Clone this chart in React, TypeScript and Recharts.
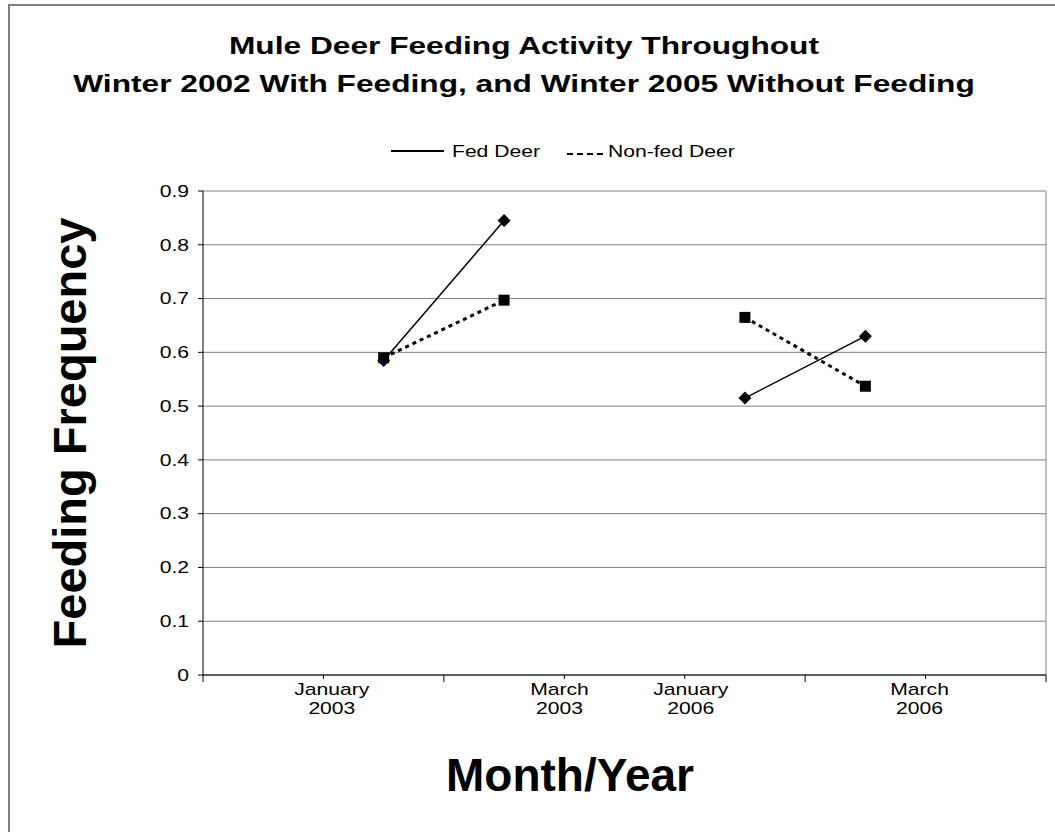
import React from 'react';
import {
  LineChart, Line, XAxis, YAxis, CartesianGrid, ReferenceLine, Legend, Label
} from 'recharts';

// chart values
const periods = ['Jan 2003', 'Mar 2003', '', 'Jan 2006', 'Mar 2006'];
const slotCenters = [1.5, 2.5, 3.5, 4.5, 5.5];
const fedDeer = [0.585, 0.845, null, 0.515, 0.63];
const nonFedDeer = [0.59, 0.697, null, 0.665, 0.537];

const yTicks = [0, 0.1, 0.2, 0.3, 0.4, 0.5, 0.6, 0.7, 0.8, 0.9];
const boundaryTicks = [0, 1, 2, 3, 4, 5, 6, 7];
const majorTicks = [0, 2, 5, 7];
const tickLabelPositions = [1.07, 2.96, 4.05, 5.95];
const tickLabels = [
  ['January', '2003'],
  ['March', '2003'],
  ['January', '2006'],
  ['March', '2006'],
];

const data = slotCenters.map((x, i) => ({
  x,
  period: periods[i],
  fed: fedDeer[i],
  nonFed: nonFedDeer[i],
}));

const FONT = '"Liberation Sans", Arial, sans-serif';
const STRETCH = 1.32; // the source picture is stretched sideways

const XTick = (props: any) => {
  const { x, y, payload } = props;
  const v = payload.value;
  const li = tickLabelPositions.indexOf(v);
  if (li >= 0) {
    return (
      <g transform={`translate(${x},${y}) scale(${STRETCH},1)`}>
        <text x={0} y={0} textAnchor="middle" fontSize={16} fill="#000" fontFamily={FONT}>
          <tspan x={0} y={20}>{tickLabels[li][0]}</tspan>
          <tspan x={0} y={39}>{tickLabels[li][1]}</tspan>
        </text>
      </g>
    );
  }
  const len = majorTicks.includes(v) ? 7 : 4;
  return <line x1={x} x2={x} y1={y} y2={y + len} stroke="#000" strokeWidth={1} />;
};

const YTick = (props: any) => {
  const { x, y, payload } = props;
  return (
    <text
      x={0}
      y={0}
      transform={`translate(${x},${y}) scale(${STRETCH},1)`}
      textAnchor="end"
      dy="0.36em"
      fontSize={16}
      fill="#000"
      fontFamily={FONT}
    >
      {String(payload.value)}
    </text>
  );
};

const Diamond = (props: any) => {
  const { cx, cy, index } = props;
  if (cx == null || cy == null) return <g key={`fd-${index}`} />;
  const r = 6.5;
  return (
    <polygon
      key={`fd-${index}`}
      points={`${cx},${cy - r} ${cx + r},${cy} ${cx},${cy + r} ${cx - r},${cy}`}
      fill={index === 0 ? '#000080' : '#000'}
    />
  );
};

const Square = (props: any) => {
  const { cx, cy, index } = props;
  if (cx == null || cy == null) return <g key={`nf-${index}`} />;
  const h = 5.5;
  return <rect key={`nf-${index}`} x={cx - h} y={cy - h} width={h * 2} height={h * 2} fill="#000" />;
};

const LegendContent = (props: any) => {
  const payload = props.payload || [];
  const fed = payload.find((p: any) => p.dataKey === 'fed');
  const nonFed = payload.find((p: any) => p.dataKey === 'nonFed');
  return (
    <svg width={1047} height={24} style={{ display: 'block' }}>
      <line x1={383} x2={436} y1={9} y2={9} stroke="#000" strokeWidth={2} />
      <text x={0} y={0} transform={`translate(444,15) scale(${STRETCH},1)`} fontSize={16} fontFamily={FONT} fill="#000">
        {fed ? fed.value : 'Fed Deer'}
      </text>
      <line x1={559} x2={597} y1={12} y2={12} stroke="#000" strokeWidth={2} strokeDasharray="6 4" />
      <text x={0} y={0} transform={`translate(600,15) scale(${STRETCH},1)`} fontSize={16} fontFamily={FONT} fill="#000">
        {nonFed ? nonFed.value : 'Non-fed Deer'}
      </text>
    </svg>
  );
};

const YTitle = (props: any) => {
  const vb = props.viewBox;
  const cy = vb.y + vb.height / 2;
  return (
    <text
      x={78}
      y={cy}
      transform={`rotate(-90, 78, ${cy})`}
      textAnchor="middle"
      fontSize={47}
      fontWeight="bold"
      fontFamily={FONT}
      fill="#000"
    >
      Feeding Frequency
    </text>
  );
};

const XTitle = (props: any) => {
  const vb = props.viewBox;
  return (
    <text
      x={562}
      y={vb.y + 116}
      textAnchor="middle"
      fontSize={46}
      fontWeight="bold"
      fontFamily={FONT}
      fill="#000"
    >
      Month/Year
    </text>
  );
};

export default function App() {
  return (
    <div style={{ position: 'absolute', left: 8, top: 4, width: 1047, height: 828, fontFamily: FONT }}>
      <svg width={1047} height={828} style={{ position: 'absolute', left: 0, top: 0 }}>
        <line x1={1} x2={1} y1={0} y2={828} stroke="#808080" strokeWidth={2} />
        <line x1={0} x2={1047} y1={1} y2={1} stroke="#808080" strokeWidth={2} />
        <text x={0} y={0} transform={`translate(516,50) scale(${STRETCH},1)`} textAnchor="middle"
          fontSize={24} fontWeight="bold" fontFamily={FONT} fill="#000">
          Mule Deer Feeding Activity Throughout
        </text>
        <text x={0} y={0} transform={`translate(516,88) scale(${STRETCH},1)`} textAnchor="middle"
          fontSize={24} fontWeight="bold" fontFamily={FONT} fill="#000">
          Winter 2002 With Feeding, and Winter 2005 Without Feeding
        </text>
      </svg>
      <div style={{ position: 'absolute', left: 0, top: 0 }}>
        <LineChart
          width={1047}
          height={828}
          data={data}
          margin={{ top: 187, right: 9, left: 0, bottom: 0 }}
        >
          <CartesianGrid vertical={false} stroke="#808080" strokeWidth={1} />
          <ReferenceLine x={7} stroke="#808080" strokeWidth={1} />
          <XAxis
            dataKey="x"
            type="number"
            domain={[0, 7]}
            ticks={[...boundaryTicks, ...tickLabelPositions]}
            interval={0}
            tickLine={false}
            tickSize={0}
            tickMargin={0}
            tick={<XTick />}
            height={157}
            axisLine={{ stroke: '#000', strokeWidth: 1 }}
          >
            <Label content={<XTitle />} />
          </XAxis>
          <YAxis
            type="number"
            domain={[0, 0.9]}
            ticks={yTicks}
            interval={0}
            width={195}
            tickSize={5}
            tickMargin={9}
            tick={<YTick />}
            tickLine={{ stroke: '#000' }}
            axisLine={{ stroke: '#000', strokeWidth: 1 }}
          >
            <Label content={<YTitle />} />
          </YAxis>
          <Legend
            layout="horizontal"
            verticalAlign="middle"
            align="center"
            content={<LegendContent />}
            wrapperStyle={{ top: 138, left: 0, width: 1047, height: 24 }}
          />
          <Line
            dataKey="fed"
            name="Fed Deer"
            stroke="#000"
            strokeWidth={1.5}
            dot={Diamond}
            activeDot={false}
            connectNulls={false}
            isAnimationActive={false}
          />
          <Line
            dataKey="nonFed"
            name="Non-fed Deer"
            stroke="#000"
            strokeWidth={3}
            strokeDasharray="4 4"
            dot={Square}
            activeDot={false}
            connectNulls={false}
            isAnimationActive={false}
          />
        </LineChart>
      </div>
    </div>
  );
}
